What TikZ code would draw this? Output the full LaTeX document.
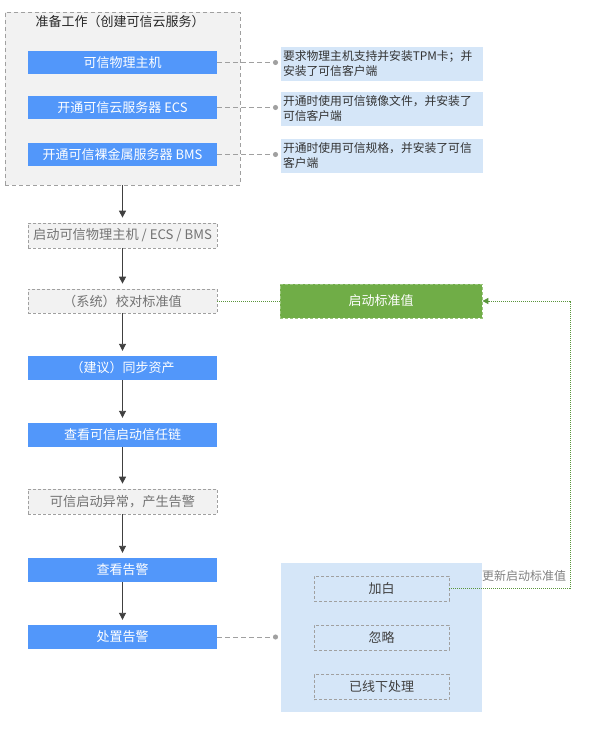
\documentclass[tikz,border=0pt]{standalone}
\usepackage{fontspec}
\setmainfont{Noto Sans CJK SC}
\usetikzlibrary{arrows.meta}
\definecolor{hwblue}{RGB}{82,151,250}
\definecolor{hwgreen}{RGB}{112,173,71}
\definecolor{notebg}{RGB}{213,230,248}
\definecolor{graybg}{RGB}{242,242,242}
\definecolor{grayline}{RGB}{160,160,160}
\definecolor{dotgreen}{RGB}{90,150,60}
\tikzset{
  bluebox/.style={rectangle, fill=hwblue, draw=none, minimum width=189pt, minimum height=23pt, inner sep=0pt, text=white, font=\fontsize{13}{14}\selectfont},
  graybox/.style={rectangle, fill=graybg, draw=grayline, dashed, dash pattern=on 3pt off 2pt, line width=0.7pt, minimum width=189pt, minimum height=24pt, inner sep=0pt, text=black!55, font=\fontsize{13.2}{14}\selectfont},
  notebox/.style={rectangle, fill=notebg, draw=none, minimum width=202pt, minimum height=34pt, text width=198pt, inner xsep=2pt, inner ysep=0pt, align=left, text=black!80, font=\fontsize{11.8}{15}\selectfont},
  choicebox/.style={rectangle, draw=grayline, dashed, dash pattern=on 3pt off 2pt, line width=0.7pt, minimum width=135pt, minimum height=25pt, inner sep=0pt, text=black!75, font=\fontsize{13}{14}\selectfont},
  flow/.style={draw=black!75, line width=0.9pt, -{Triangle[length=7pt,width=7pt]}, shorten >=5pt},
  link/.style={draw=grayline, line width=0.9pt, dashed, dash pattern=on 5pt off 3pt, -{Circle[length=5pt]}},
  greenlink/.style={draw=dotgreen, line width=0.9pt, dash pattern=on 1pt off 1pt},
}
\begin{document}
\begin{tikzpicture}[x=1pt,y=-1pt]
\useasboundingbox (0,0) rectangle (597,741);
% preparation box
\node[rectangle, fill=graybg, draw=grayline, dashed, dash pattern=on 4pt off 3pt, line width=0.8pt, minimum width=235pt, minimum height=173pt, inner sep=0pt] (prep) at (122.5,98.5) {};
\node[text=black!85, font=\fontsize{13}{14}\selectfont] (title) at (120,22) {准备工作（创建可信云服务）};
\node[bluebox] (b1) at (122.5,62.5) {可信物理主机};
\node[bluebox] (b2) at (122.5,107.5) {开通可信云服务器 ECS};
\node[bluebox] (b3) at (122.5,154.5) {开通可信裸金属服务器 BMS};
% notes
\node[notebox] (n1) at (382,64) {要求物理主机支持并安装TPM卡；并\\安装了可信客户端};
\node[notebox] (n2) at (382,109) {开通时使用可信镜像文件，并安装了\\可信客户端};
\node[notebox] (n3) at (382,155.5) {开通时使用可信规格，并安装了可信\\客户端};
\coordinate (d1) at (278,62.5);
\coordinate (d2) at (278,107.5);
\coordinate (d3) at (278,154.5);
\draw[link] (b1.east) -- (d1);
\draw[link] (b2.east) -- (d2);
\draw[link] (b3.east) -- (d3);
% main flow
\node[graybox, minimum height=25pt] (g1) at (122.5,235.5) {启动可信物理主机 / ECS / BMS};
\node[graybox] (g2) at (122.5,301) {（系统）校对标准值};
\node[bluebox, minimum height=24pt] (b4) at (122.5,368) {（建议）同步资产};
\node[bluebox, minimum height=24pt] (b5) at (122.5,435) {查看可信启动信任链};
\node[graybox, minimum height=25pt] (g3) at (122.5,501.5) {可信启动异常，产生告警};
\node[bluebox, minimum height=24pt] (b6) at (122.5,570) {查看告警};
\node[bluebox, minimum height=24pt] (b7) at (122.5,637) {处置告警};
\draw[flow] (prep.south -| g1.north) -- (g1.north);
\draw[flow] (g1.south) -- (g2.north);
\draw[flow] (g2.south) -- (b4.north);
\draw[flow] (b4.south) -- (b5.north);
\draw[flow] (b5.south) -- (g3.north);
\draw[flow] (g3.south) -- (b6.north);
\draw[flow] (b6.south) -- (b7.north);
% green
\node[rectangle, fill=hwgreen, draw=hwgreen!70!white, dashed, dash pattern=on 3pt off 2pt, line width=0.7pt, minimum width=202pt, minimum height=34pt, inner sep=0pt, text=white, font=\fontsize{13}{14}\selectfont] (gr) at (381,301) {启动标准值};
\draw[greenlink] (g2.east) -- (gr.west);
% handling panel
\node[rectangle, fill=notebg, minimum width=201pt, minimum height=149pt, inner sep=0pt] (panel) at (381.5,637.5) {};
\node[choicebox] (w1) at (381.5,588.5) {加白};
\node[choicebox] (w2) at (381.5,637.5) {忽略};
\node[choicebox] (w3) at (381.5,687) {已线下处理};
\coordinate (d4) at (278,637);
\draw[link] (b7.east) -- (d4);
\coordinate (corner) at (570,588.5);
\draw[greenlink, -{Triangle[length=6pt,width=6pt]}] (w1.east) -- (corner) |- (gr.east);
\node[text=black!50, font=\fontsize{12}{13}\selectfont, anchor=south] (lbl) at (524,585) {更新启动标准值};
\end{tikzpicture}
\end{document}
